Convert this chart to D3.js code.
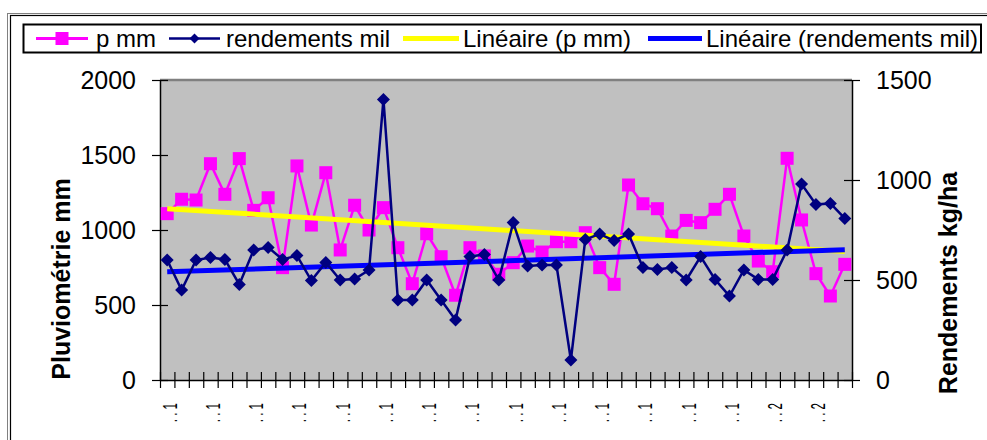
<!DOCTYPE html>
<html>
<head>
<meta charset="utf-8">
<script src="https://cdn.jsdelivr.net/npm/d3@7"></script>
<style>
  html, body { margin: 0; padding: 0; background: #fff; }
  svg { display: block; }
  text { font-family: "Liberation Sans", Arial, sans-serif; }
</style>
</head>
<body>
<div id="chart"></div>
<script>
// ---- data ----
const xLabels = [". .  1", ". .  1", ". .  1", ". .  1", ". .  1", ". .  1", ". .  1", ". .  1",
                 ". .  1", ". .  1", ". .  1", ". .  1", ". .  1", ". .  1", ". .  2", ". .  2"];
const pluvio = [1109, 1205, 1200, 1442, 1238, 1476, 1131, 1215, 749, 1427, 1033, 1382, 867, 1165, 1000, 1149,
                882, 642, 975, 822, 565, 882, 827, 705, 782, 893, 853, 922, 922, 982, 749, 638,
                1300, 1175, 1142, 960, 1064, 1049, 1138, 1238, 960, 793, 722, 1478, 1067, 709, 560, 771];
const rendements = [600, 450, 600, 613, 603, 478, 650, 663, 603, 622, 497, 588, 500, 505, 550, 1403,
                    400, 400, 500, 400, 300, 617, 628, 500, 787, 570, 575, 575, 100, 703, 730, 697,
                    730, 562, 553, 562, 500, 617, 503, 420, 550, 503, 503, 650, 980, 878, 883, 808];
const leftTicks = [0, 500, 1000, 1500, 2000];
const rightTicks = [0, 500, 1000, 1500];
const seriesNames = ["p mm", "rendements mil", "Linéaire (p mm)", "Linéaire (rendements mil)"];
const yLeftTitle = "Pluviométrie mm";
const yRightTitle = "Rendements kg/ha";

// ---- setup ----
const W = 987, H = 440;
const plot = { l: 160, r: 852, t: 80, b: 380 };
const n = pluvio.length;
const idx = d3.range(n);

const svg = d3.select("#chart").append("svg").attr("width", W).attr("height", H);

// outer frame (double border)
svg.append("rect").attr("x", 7.5).attr("y", 13.5).attr("width", 1200).attr("height", 800)
  .attr("fill", "none").attr("stroke", "#808080").attr("stroke-width", 1);
svg.append("rect").attr("x", 10.5).attr("y", 15.5).attr("width", 1200).attr("height", 800)
  .attr("fill", "none").attr("stroke", "#000").attr("stroke-width", 1.2);

const x = d3.scaleBand().domain(idx).range([plot.l, plot.r]).padding(0);
const xc = i => x(i) + x.bandwidth() / 2;
const xB = d3.scaleLinear().domain([0, n]).range([plot.l, plot.r]);
const yL = d3.scaleLinear().domain([0, 2000]).range([plot.b, plot.t]);
const yR = d3.scaleLinear().domain([0, 1500]).range([plot.b, plot.t]);

// plot area
svg.append("rect").attr("x", plot.l).attr("y", plot.t)
  .attr("width", plot.r - plot.l).attr("height", plot.b - plot.t).attr("fill", "#c0c0c0");
svg.append("line").attr("x1", plot.l).attr("x2", plot.r).attr("y1", plot.t).attr("y2", plot.t)
  .attr("stroke", "#808080").attr("stroke-width", 2.5);

// axes
function crossTicks(g, dir) {
  g.selectAll(".tick line").attr(dir === "v" ? "x1" : "y1", -8).attr(dir === "v" ? "x2" : "y2", 8);
  g.select(".domain").attr("stroke", "#000").attr("stroke-width", 1.5);
  g.selectAll(".tick line").attr("stroke", "#000").attr("stroke-width", 1.2);
}
const fmt = d3.format("d");
const gL = svg.append("g").attr("transform", `translate(${plot.l},0)`)
  .call(d3.axisLeft(yL).tickValues(leftTicks).tickFormat(fmt).tickSize(8).tickSizeOuter(0).tickPadding(16));
crossTicks(gL, "v");
gL.selectAll("text").attr("font-size", 25).attr("fill", "#000").attr("font-family", "Liberation Sans, Arial");

const gR = svg.append("g").attr("transform", `translate(${plot.r},0)`)
  .call(d3.axisRight(yR).tickValues(rightTicks).tickFormat(fmt).tickSize(8).tickSizeOuter(0).tickPadding(16));
crossTicks(gR, "v");
gR.selectAll("text").attr("font-size", 25).attr("fill", "#000").attr("font-family", "Liberation Sans, Arial");

const gB = svg.append("g").attr("transform", `translate(0,${plot.b})`)
  .call(d3.axisBottom(xB).tickValues(d3.range(n + 1)).tickSize(8).tickSizeOuter(0).tickFormat(""));
crossTicks(gB, "h");

// x labels (every 3rd category), rotated
xLabels.forEach((lab, k) => {
  const i = k * 3;
  svg.append("text")
    .attr("transform", `translate(${xc(i) + 9.5},403) rotate(-90) scale(0.55,1)`)
    .attr("text-anchor", "end")
    .attr("font-size", 21)
    .attr("fill", "#000")
    .text(lab);
});

// axis titles
svg.append("text").attr("transform", `translate(70,279) rotate(-90)`)
  .attr("text-anchor", "middle").attr("font-size", 25).attr("font-weight", "bold").text(yLeftTitle);
svg.append("text").attr("transform", `translate(957,283) rotate(-90)`)
  .attr("text-anchor", "middle").attr("font-size", 25).attr("font-weight", "bold").text(yRightTitle);

// regression
function linreg(vals) {
  const xm = d3.mean(idx), ym = d3.mean(vals);
  let sxy = 0, sxx = 0;
  idx.forEach(i => { sxy += (i - xm) * (vals[i] - ym); sxx += (i - xm) ** 2; });
  const b = sxy / sxx, a = ym - b * xm;
  return i => a + b * i;
}
const trP = linreg(pluvio), trR = linreg(rendements);

const diamond = s => `M0,${-s}L${s},0L0,${s}L${-s},0Z`;

// series p mm
svg.append("path").datum(idx)
  .attr("d", d3.line().x(i => xc(i)).y(i => yL(pluvio[i])))
  .attr("fill", "none").attr("stroke", "#ff00ff").attr("stroke-width", 2.5);
svg.append("g").selectAll("rect").data(idx).join("rect")
  .attr("x", i => xc(i) - 6.5).attr("y", i => yL(pluvio[i]) - 6.5)
  .attr("width", 13).attr("height", 13).attr("fill", "#ff00ff");

// trendlines
svg.append("path").datum([0, n - 1])
  .attr("d", d3.line().x(i => xc(i)).y(i => yL(trP(i))))
  .attr("stroke", "#ffff00").attr("stroke-width", 5).attr("fill", "none");
svg.append("path").datum([0, n - 1])
  .attr("d", d3.line().x(i => xc(i)).y(i => yR(trR(i))))
  .attr("stroke", "#0000ff").attr("stroke-width", 5).attr("fill", "none");

// series rendements
svg.append("path").datum(idx)
  .attr("d", d3.line().x(i => xc(i)).y(i => yR(rendements[i])))
  .attr("fill", "none").attr("stroke", "#000080").attr("stroke-width", 2.5);
svg.append("g").selectAll("path").data(idx).join("path")
  .attr("transform", i => `translate(${xc(i)},${yR(rendements[i])})`)
  .attr("d", diamond(6.5)).attr("fill", "#000080");

// legend
svg.append("rect").attr("x", 23.5).attr("y", 24.5).attr("width", 957.5).attr("height", 28)
  .attr("fill", "#fff").attr("stroke", "#000").attr("stroke-width", 2);
const ly = 38.5;
const leg = [
  { x1: 36, x2: 88, tx: 96, color: "#ff00ff", w: 3, mark: "square" },
  { x1: 169, x2: 220, tx: 226, color: "#000080", w: 2.5, mark: "diamond" },
  { x1: 403, x2: 459, tx: 463, color: "#ffff00", w: 5, mark: null },
  { x1: 648, x2: 702, tx: 706, color: "#0000ff", w: 5, mark: null }
];
leg.forEach((d, k) => {
  svg.append("line").attr("x1", d.x1).attr("x2", d.x2).attr("y1", ly).attr("y2", ly)
    .attr("stroke", d.color).attr("stroke-width", d.w);
  const cx = (d.x1 + d.x2) / 2;
  if (d.mark === "square") {
    svg.append("rect").attr("x", cx - 6.5).attr("y", ly - 6.5).attr("width", 13).attr("height", 13).attr("fill", d.color);
  } else if (d.mark === "diamond") {
    svg.append("path").attr("transform", `translate(${cx},${ly})`).attr("d", diamond(5)).attr("fill", d.color);
  }
  svg.append("text").attr("x", d.tx).attr("y", 46.5).attr("font-size", 24)
    .attr("fill", "#000").text(seriesNames[k]);
});
</script>
</body>
</html>
